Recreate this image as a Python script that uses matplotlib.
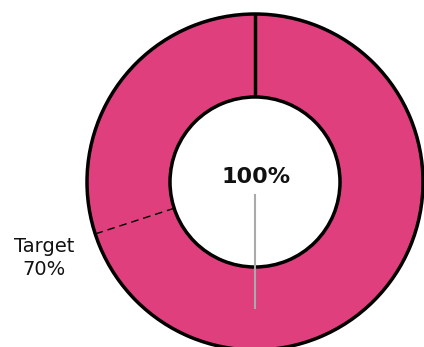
import numpy as np
import matplotlib.pyplot as plt

# gauge values (percent)
actual = [100]
target = [70]
target_label = "Target"
needle_pct = [50]

pink = "#df3f7d"
cx, cy = 255, 165
r_out, r_in = 168, 85


def polar(pct, r):
    # 0% sits at 12 o'clock, going clockwise
    a = np.deg2rad(90 - 360 * pct / 100.0)
    return cx + r * np.cos(a), cy + r * np.sin(a)


fig = plt.figure(figsize=(4.24, 3.47), dpi=100)
ax = fig.add_axes([0, 0, 1, 1])

ax.pie(actual, colors=[pink], startangle=90, counterclock=False,
       center=(cx, cy), radius=r_out, frame=True,
       wedgeprops=dict(width=r_out - r_in, edgecolor="black", linewidth=2.5))
ax.set_xlim(0, 424)
ax.set_ylim(0, 347)
ax.set_aspect("equal")
ax.axis("off")

# start marker at 0%
x0, y0 = polar(0, r_in)
x1, y1 = polar(0, r_out)
ax.plot([x0, x1], [y0, y1], color="black", lw=2.5, solid_capstyle="butt")

# target marker
tx0, ty0 = polar(target[0], r_in)
tx1, ty1 = polar(target[0], r_out)
ax.plot([tx0, tx1], [ty0, ty1], color="black", lw=1.0, dashes=(5.5, 3.5))
ax.text(44, 89, f"{target_label}\n{target[0]}%", ha="center", va="center",
        fontsize=14, linespacing=1.3, color="#111111")

# needle
nx0, ny0 = polar(needle_pct[0], 13)
nx1, ny1 = polar(needle_pct[0], 126)
ax.plot([nx0, nx1], [ny0, ny1], color="#aaaaaa", lw=1.5)

ax.text(cx + 1, 170, f"{actual[0]}%", ha="center", va="center",
        fontsize=16, fontweight="bold", color="#111111")

fig.savefig("out.png", dpi=100)
